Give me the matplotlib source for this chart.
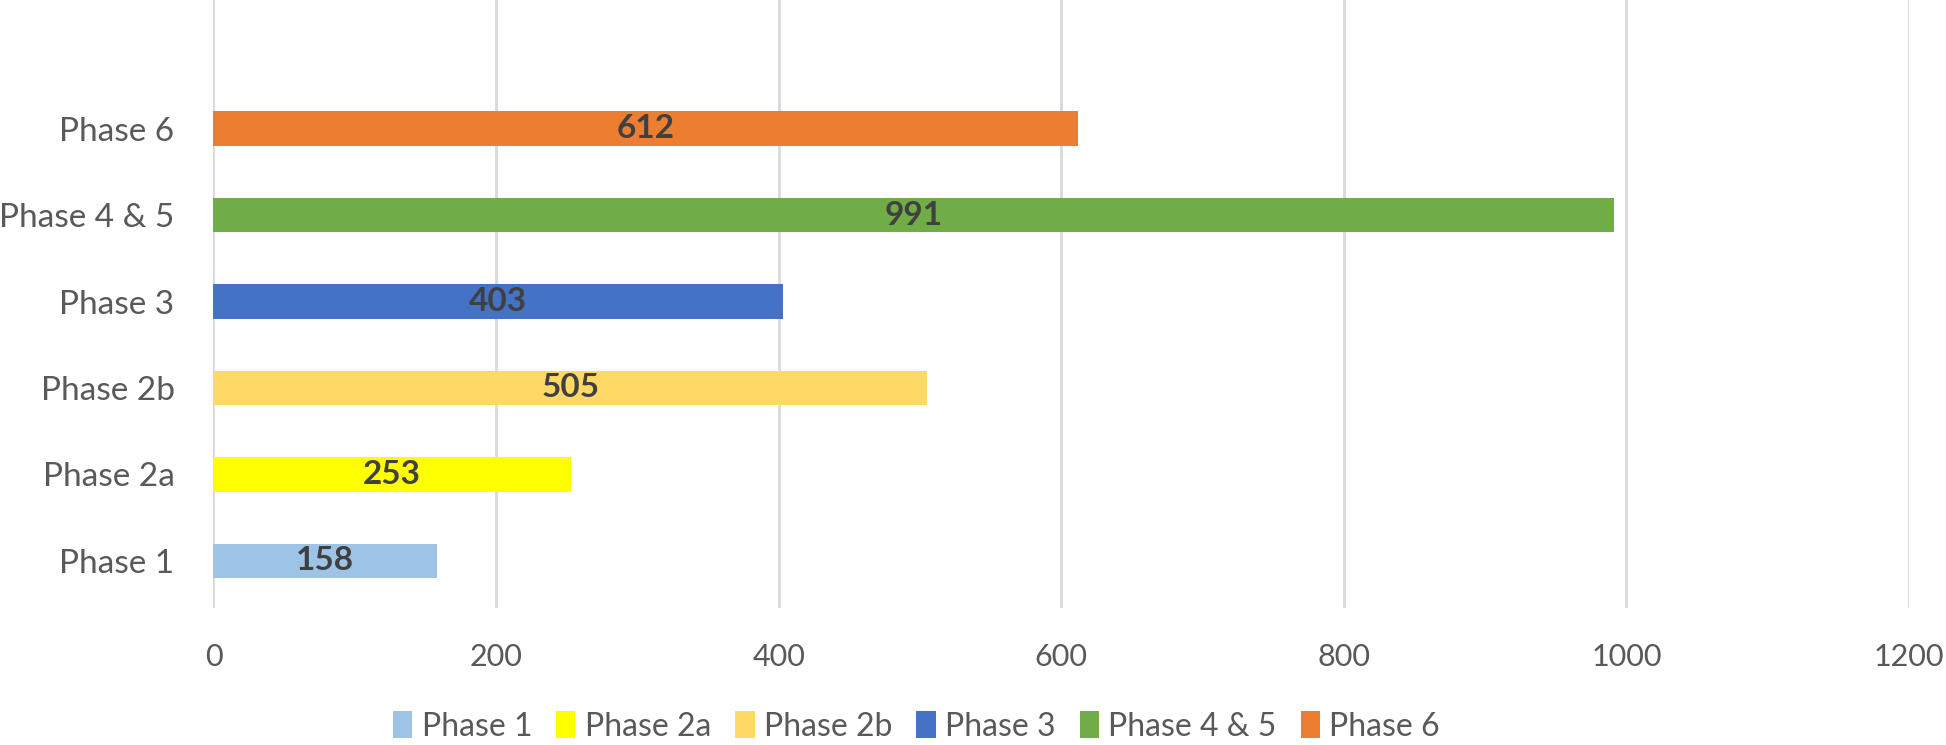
import matplotlib.pyplot as plt

# Data
phases = ["Phase 1", "Phase 2a", "Phase 2b", "Phase 3", "Phase 4 & 5", "Phase 6"]
counts = [158, 253, 505, 403, 991, 612]
colors = ["#9DC3E6", "#FFFF00", "#FFD966", "#4472C4", "#70AD47", "#ED7D31"]
x_ticks = [0, 200, 400, 600, 800, 1000, 1200]

plt.rcParams["font.family"] = ["Lato", "DejaVu Sans"]

fig = plt.figure(figsize=(19.46, 7.45), dpi=100)
ax = fig.add_axes([0.1097, 0.184, 0.8713, 0.816])

for i, (name, val, col) in enumerate(zip(phases, counts, colors)):
    ax.barh(i, val, height=0.40, color=col, label=name, zorder=3)
    ax.text(val / 2, i, str(val), ha="center", va="center",
            fontsize=24, fontweight="bold", color="#404040", zorder=4)

ax.set_xlim(0, 1200)
ax.set_ylim(-0.545, 6.49)
ax.set_xticks(x_ticks)
ax.set_yticks(range(len(phases)))
ax.set_yticklabels(phases)
ax.grid(axis="x", color="#D9D9D9", linewidth=2, zorder=0)
ax.tick_params(axis="x", length=0, labelsize=22, colors="#595959", pad=25)
ax.tick_params(axis="y", length=0, labelsize=24, colors="#595959", pad=28)
for s in ax.spines.values():
    s.set_visible(False)

fig.legend(loc="center", bbox_to_anchor=(0.471, 0.025), ncol=6, frameon=False,
           fontsize=23, labelcolor="#595959", handlelength=0.6, handleheight=0.9,
           handletextpad=0.3, columnspacing=0.75)

fig.savefig("out.png", dpi=100)
